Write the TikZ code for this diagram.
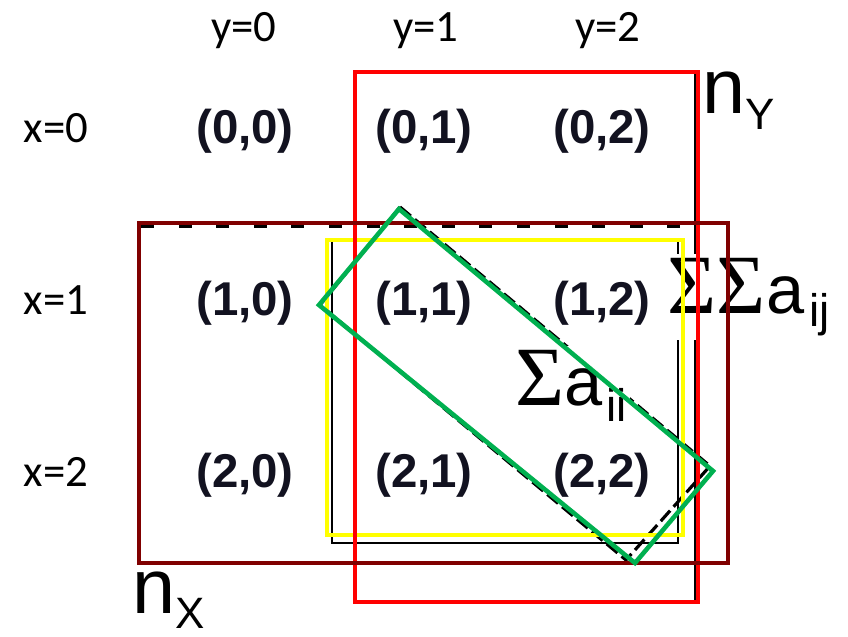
\documentclass[tikz,border=0pt]{standalone}
\usepackage{fontspec}
\setmainfont{Liberation Sans}
\newfontfamily\calfont{Carlito}
\newfontfamily\sigfont{Liberation Serif}
\usetikzlibrary{positioning}
\definecolor{cRed}{RGB}{255,0,0}
\definecolor{cMaroon}{RGB}{128,0,0}
\definecolor{cYellow}{RGB}{255,255,0}
\definecolor{cGreen}{RGB}{0,176,80}
\definecolor{cInk}{RGB}{18,18,32}

\begin{document}
\begin{tikzpicture}[x=0.02cm,y=-0.02cm,
    cell/.style={anchor=base,inner sep=0pt,font=\fontsize{27}{30}\selectfont\bfseries,text=cInk},
    idx/.style={anchor=base,inner sep=0pt,font=\calfont\fontsize{25.5}{28}\selectfont},
    tag/.style={anchor=base west,inner sep=2pt},
    frame/.style={line width=2.4pt},
    ghost/.style={line width=1.5pt,black}
  ]
  \useasboundingbox (0,0) rectangle (848,636);
  % black boxes left under the coloured ones
  \draw[ghost] (355,72) rectangle (695,601);
  \draw[ghost] (332,240) rectangle (678,543);
  \draw[ghost,line width=1.8pt,dash pattern=on 7.4pt off 14pt] (141,226) -- (680,226);
  \coordinate (dT) at (400,207);
  \coordinate (dR) at (710,466);
  \coordinate (dB) at (626,560);
  \coordinate (dL) at (320,305);
  \draw[ghost,line width=1.8pt,dash pattern=on 8pt off 3pt] (dT) -- (dR) -- (dB) -- (dL) -- cycle;
  % grid of index pairs
  \foreach \r/\yy in {0/143,1/315,2/487}
    \foreach \c/\xx in {0/245,1/424,2/602}
      \node[cell] (c\r\c) at (\xx,\yy) {(\r,\c)};
  \foreach \r/\yy in {0/142,1/314,2/486}
    \node[idx] (x\r) at (56,\yy) {x=\r};
  \foreach \c/\xx in {0/244,1/426,2/608}
    \node[idx] (y\c) at (\xx,41) {y=\c};
  % sums
  \node[tag,fill=white] (sumall) at (664,313)
    {{\sigfont\fontsize{48}{52}\selectfont ΣΣ}{\fontsize{39}{44}\selectfont a}\raisebox{-7.9pt}{\fontsize{26}{28}\selectfont\kern3pt ij}};
  \node[tag,fill=white] (sumdiag) at (512,405)
    {{\sigfont\fontsize{48}{52}\selectfont Σ}{\fontsize{39}{44}\selectfont a}\raisebox{-9.6pt}{\fontsize{26}{28}\selectfont\kern2pt ii}};
  % coloured frames
  \draw[frame,cYellow] (327,240) rectangle (683,535);
  \draw[frame,cRed] (355,72) rectangle (698,602);
  \draw[frame,cMaroon] (139,223) rectangle (728,563);
  \coordinate (gT) at (399,209);
  \coordinate (gR) at (713,471);
  \coordinate (gB) at (635,563);
  \coordinate (gL) at (319,305);
  \draw[frame,cGreen,line width=2.6pt] (gT) -- (gR) -- (gB) -- (gL) -- cycle;
  % sizes
  \node[tag,inner sep=0pt] (nY) at (702,113)
    {\fontsize{44}{48}\selectfont n\raisebox{-9.4pt}{\fontsize{25}{28}\selectfont Y}};
  \node[tag,inner sep=0pt] (nX) at (132,613)
    {\fontsize{44}{48}\selectfont n\raisebox{-9pt}{\fontsize{25}{28}\selectfont X}};
\end{tikzpicture}
\end{document}
